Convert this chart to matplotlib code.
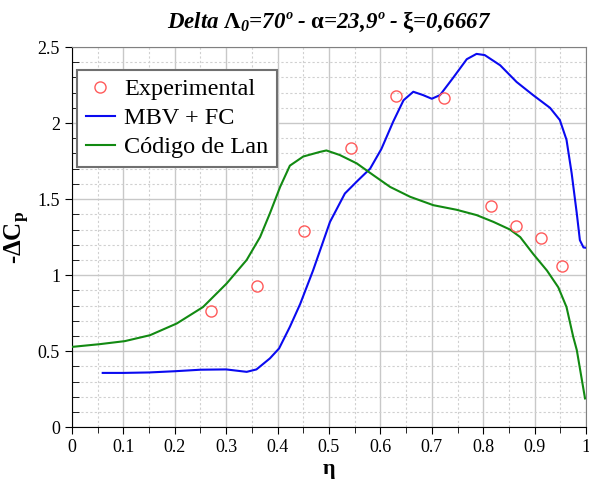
import matplotlib
matplotlib.use('Agg')
from matplotlib import pyplot as plt
from matplotlib.ticker import MultipleLocator

### DATA
exp_eta = [0.270, 0.361, 0.452, 0.542, 0.631, 0.724, 0.815, 0.863, 0.912, 0.954]
exp_dcp = [0.763, 0.930, 1.290, 1.837, 2.178, 2.167, 1.452, 1.320, 1.245, 1.057]

mbv_eta = [0.060, 0.100, 0.150, 0.200, 0.250, 0.300, 0.340, 0.359, 0.385, 0.403,
           0.424, 0.444, 0.469, 0.502, 0.531, 0.557, 0.580, 0.602, 0.625, 0.645,
           0.664, 0.683, 0.700, 0.716, 0.742, 0.768, 0.787, 0.803, 0.833, 0.865,
           0.897, 0.930, 0.949, 0.962, 0.972, 0.982, 0.988, 0.995, 1.000]
mbv_dcp = [0.357, 0.357, 0.360, 0.368, 0.378, 0.380, 0.364, 0.380, 0.452, 0.518,
           0.660, 0.810, 1.030, 1.350, 1.537, 1.625, 1.700, 1.830, 2.010, 2.150,
           2.206, 2.184, 2.160, 2.184, 2.300, 2.420, 2.455, 2.447, 2.380, 2.270,
           2.184, 2.100, 2.020, 1.890, 1.670, 1.405, 1.230, 1.182, 1.180]

lan_eta = [0.000, 0.054, 0.103, 0.152, 0.204, 0.255, 0.301, 0.340, 0.366, 0.385,
           0.405, 0.424, 0.450, 0.482, 0.495, 0.521, 0.554, 0.586, 0.619, 0.658,
           0.703, 0.748, 0.787, 0.820, 0.852, 0.872, 0.897, 0.924, 0.946, 0.962,
           0.975, 0.982, 0.998]
lan_dcp = [0.528, 0.546, 0.566, 0.605, 0.682, 0.790, 0.945, 1.100, 1.250, 1.405,
           1.580, 1.720, 1.780, 1.810, 1.820, 1.790, 1.735, 1.658, 1.580, 1.515,
           1.460, 1.430, 1.395, 1.350, 1.300, 1.250, 1.140, 1.030, 0.920, 0.790,
           0.595, 0.507, 0.189]

### STYLE
plt.rcParams['font.family'] = ['Liberation Serif', 'DejaVu Serif']
plt.rcParams['mathtext.fontset'] = 'custom'
plt.rcParams['mathtext.rm'] = 'Liberation Serif:italic:bold'
plt.rcParams['mathtext.it'] = 'Liberation Serif:italic:bold'
plt.rcParams['mathtext.bf'] = 'Liberation Serif:bold'

fig = plt.figure(figsize=(5.89, 4.8), dpi=100)
ax = fig.add_axes([0.122, 0.110, 0.873, 0.792])

ax.plot(mbv_eta, mbv_dcp, color='#0a0af0', lw=1.5, label='MBV + FC', zorder=3)
ax.plot(lan_eta, lan_dcp, color='#128a12', lw=1.5, label='Código de Lan', zorder=3)
ax.plot(exp_eta, exp_dcp, 'o', ms=8, mfc='none', mec='#ff5a5a', mew=1.0,
        label='Experimental', zorder=4)

ax.set_xlim(0, 1)
ax.set_ylim(0, 2.5)
ax.xaxis.set_minor_locator(MultipleLocator(0.05))
ax.yaxis.set_minor_locator(MultipleLocator(0.1))
ax.set_xticks([i / 10 for i in range(11)])
ax.set_xticklabels(['0', '0.1', '0.2', '0.3', '0.4', '0.5', '0.6', '0.7', '0.8', '0.9', '1'])
ax.set_yticks([0, 0.5, 1, 1.5, 2, 2.5])
ax.set_yticklabels(['0', '0.5', '1', '1.5', '2', '2.5'])
ax.tick_params(which='major', direction='out', length=5, labelsize=13)
ax.tick_params(axis='y', which='minor', direction='in', length=5)
ax.tick_params(axis='x', which='minor', direction='out', length=4)
ax.tick_params(top=False, right=False)

ax.grid(which='major', color='#c8c8c8', lw=1.0, ls='-')
ax.grid(which='minor', color='#d0d0d0', lw=0.8, ls=(0, (2, 2)))
ax.set_axisbelow(True)

for side in ['top', 'right']:
    ax.spines[side].set_color('#808080')

ax.set_xlabel('η', fontsize=16, fontweight='bold', labelpad=2)
ax.set_ylabel('-ΔC$_\\mathbf{p}$', fontsize=18, fontweight='bold', labelpad=4)
title = ('Delta $\\mathbf{\\Lambda}_{\\mathit{0}}$=70º - $\\mathbf{\\alpha}$=23,9º'
         ' - $\\mathbf{\\xi}$=0,6667')
ax.set_title(title, fontsize=16.5, fontweight='bold', fontstyle='italic', pad=14)

handles, labels = ax.get_legend_handles_labels()
order = [2, 0, 1]
leg = ax.legend([handles[i] for i in order], [labels[i] for i in order],
                loc='upper left', bbox_to_anchor=(0.01, 0.94), fontsize=17.5,
                fancybox=False, framealpha=1, edgecolor='#707070',
                borderpad=0.35, labelspacing=0.28, handlelength=1.2,
                handletextpad=0.4, borderaxespad=0.0)
leg.get_frame().set_linewidth(1.5)

plt.savefig('out.png', dpi=100)
